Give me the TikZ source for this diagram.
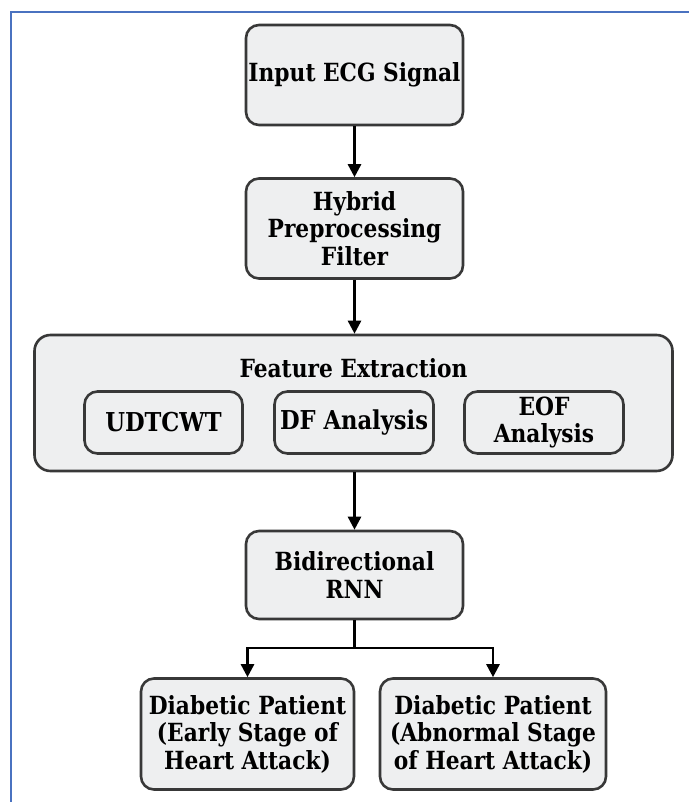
\documentclass[tikz,border=0pt]{standalone}
\usepackage{fontspec}
\setmainfont{DejaVu Serif}[FakeStretch=0.87]
\usetikzlibrary{arrows.meta}
\definecolor{boxfill}{HTML}{EEEFF0}
\definecolor{boxline}{HTML}{383838}
\definecolor{frameblue}{HTML}{4A72C0}
\tikzset{
  box/.style={draw=boxline, line width=2.6pt, fill=boxfill, rounded corners=13pt,
    align=center, inner sep=1pt, font=\bfseries\fontsize{25}{27.5}\selectfont},
  arr/.style={line width=2.6pt, -{Triangle[width=13pt,length=13pt]}},
  plain/.style={line width=2.6pt},
  lbl/.style={align=center, inner sep=0pt}
}
\begin{document}
\begin{tikzpicture}[x=1pt,y=1pt]
\useasboundingbox[fill=white] (0,0) rectangle (689,-802);
% blue frame
\draw[frameblue, line width=2pt] (10.5,-802) -- (10.5,-12) -- (689,-12);

\node[box, minimum width=217, minimum height=100] (in) at (354.5,-75)
  {\fontsize{25}{27}\selectfont Input ECG Signal};
\node[box, minimum width=217, minimum height=100] (hyb) at (354.5,-228.5)
  {Hybrid\\Preprocessing\\Filter};
\node[box, minimum width=638, minimum height=136, rounded corners=16pt] (fe) at (353.5,-403) {};
\node[lbl, font=\bfseries\fontsize{25}{27}\selectfont] (fet) at (353.5,-368) {Feature Extraction};
\node[box, minimum width=158, minimum height=62] (ud) at (163.5,-422.5)
  {\fontsize{26}{27}\selectfont UDTCWT};
\node[box, minimum width=159, minimum height=62] (df) at (354,-422.5)
  {\fontsize{26}{27}\selectfont DF Analysis};
\node[box, minimum width=159, minimum height=62] (eof) at (544,-422.5)
  {\fontsize{25}{26}\selectfont EOF\\Analysis};
\node[box, minimum width=217, minimum height=88] (bi) at (354.5,-575)
  {Bidirectional\\RNN};
\node[box, minimum width=213, minimum height=111] (p1) at (247.5,-734)
  {Diabetic Patient\\(Early Stage of\\Heart Attack)};
\node[box, minimum width=226, minimum height=111] (p2) at (493,-734)
  {Diabetic Patient\\(Abnormal Stage\\of Heart Attack)};

\coordinate (j) at (354.5,-648);
\draw[arr] (in.south) -- (hyb.north);
\draw[arr] (hyb.south) -- (fe.north -| hyb.south);
\draw[arr] (fe.south -| bi.north) -- (bi.north);
\draw[plain] (bi.south) -- (j);
\draw[arr] (j) -| (p1.north);
\draw[arr] (j) -| (p2.north);
\end{tikzpicture}
\end{document}
